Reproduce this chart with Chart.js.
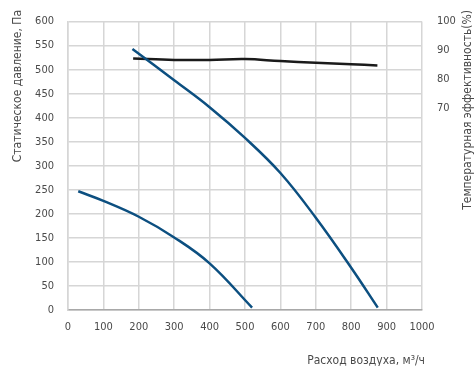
<!DOCTYPE html>
<html>
<head>
<meta charset="utf-8">
<script src="https://cdn.jsdelivr.net/npm/chart.js@4.4.1/dist/chart.umd.min.js"></script>
<style>
  html, body { margin: 0; padding: 0; background: #fff; }
  #wrap { width: 476px; height: 366px; }
</style>
</head>
<body>
<div id="wrap"><canvas id="chart"></canvas></div>
<script>
// fan curves: air flow (m3/h) vs static pressure (Pa)
const smallFlow = [29, 100, 200, 300, 400, 520]
const smallPressure = [247, 227, 194, 151, 97, 5]

const bigFlow = [182, 300, 400, 500, 600, 700, 800, 875]
const bigPressure = [543, 478, 422, 358, 285, 192, 88, 5]

// temperature efficiency (%)
const effFlow = [184, 300, 400, 500, 600, 700, 800, 874]
const effValues = [87.2, 86.7, 86.7, 87.0, 86.3, 85.7, 85.2, 84.8]

const xTicks = [0, 100, 200, 300, 400, 500, 600, 700, 800, 900, 1000]
const rightTicks = [70, 80, 90, 100]

const FONT = '"Liberation Sans Narrow", "DejaVu Sans Condensed", Roboto, sans-serif'
const TEXT = '#4a4a4a'

const toPoints = (xs, ys) => xs.map((x, i) => ({ x: x, y: ys[i] }))

const titles = {
  id: 'titles',
  afterDraw(chart) {
    const ctx = chart.ctx
    const area = chart.chartArea
    ctx.save()
    ctx.fillStyle = TEXT
    ctx.font = '12px ' + FONT
    ctx.textBaseline = 'middle'

    // left title
    ctx.save()
    ctx.translate(18, 10)
    ctx.rotate(-Math.PI / 2)
    ctx.textAlign = 'right'
    ctx.fillText('Статическое давление, Па', 0, 0)
    ctx.restore()

    // right title
    ctx.save()
    ctx.translate(468, 10)
    ctx.rotate(-Math.PI / 2)
    ctx.textAlign = 'right'
    ctx.fillText('Температурная эффективность(%)', 0, 0)
    ctx.restore()

    // x title
    ctx.textAlign = 'right'
    ctx.fillText('Расход воздуха, м³/ч', area.right + 3, 361)
    ctx.restore()
  }
}

new Chart(document.getElementById('chart'), {
  type: 'line',
  data: {
    datasets: [
      {
        data: toPoints(smallFlow, smallPressure),
        borderColor: '#0c4f80',
        borderWidth: 2.5,
        pointRadius: 0,
        tension: 0.4,
        yAxisID: 'y'
      },
      {
        data: toPoints(bigFlow, bigPressure),
        borderColor: '#0c4f80',
        borderWidth: 2.5,
        pointRadius: 0,
        tension: 0.4,
        yAxisID: 'y'
      },
      {
        data: toPoints(effFlow, effValues),
        borderColor: '#1a1a1a',
        borderWidth: 2.5,
        pointRadius: 0,
        tension: 0.4,
        yAxisID: 'y1'
      }
    ]
  },
  options: {
    responsive: true,
    maintainAspectRatio: false,
    animation: false,
    layout: { padding: { top: 16, left: 0, right: 0, bottom: 0 } },
    plugins: {
      legend: { display: false },
      tooltip: { enabled: false }
    },
    scales: {
      x: {
        type: 'linear',
        min: 0,
        max: 1000,
        afterFit: s => { s.height = 56 },
        afterBuildTicks: s => { s.ticks = xTicks.map(v => ({ value: v })) },
        grid: { color: '#d6d6d6', lineWidth: 1.5, drawTicks: false },
        border: { color: '#a8a8a8', width: 1.5 },
        ticks: { color: TEXT, font: { family: FONT, size: 11 }, padding: 11, maxRotation: 0, callback: v => String(v) }
      },
      y: {
        position: 'left',
        min: 0,
        max: 600,
        afterFit: s => { s.width = 68 },
        grid: { color: '#d6d6d6', lineWidth: 1.5, drawTicks: false },
        border: { color: '#d6d6d6', width: 1.5 },
        ticks: { stepSize: 50, color: TEXT, font: { family: FONT, size: 11 }, padding: 14 }
      },
      y1: {
        position: 'right',
        min: 0,
        max: 100,
        afterFit: s => { s.width = 54 },
        afterBuildTicks: s => { s.ticks = rightTicks.map(v => ({ value: v })) },
        grid: { display: false, drawTicks: false },
        border: { display: false },
        ticks: { color: TEXT, font: { family: FONT, size: 11 }, padding: 15 }
      }
    }
  },
  plugins: [titles]
})
</script>
</body>
</html>
